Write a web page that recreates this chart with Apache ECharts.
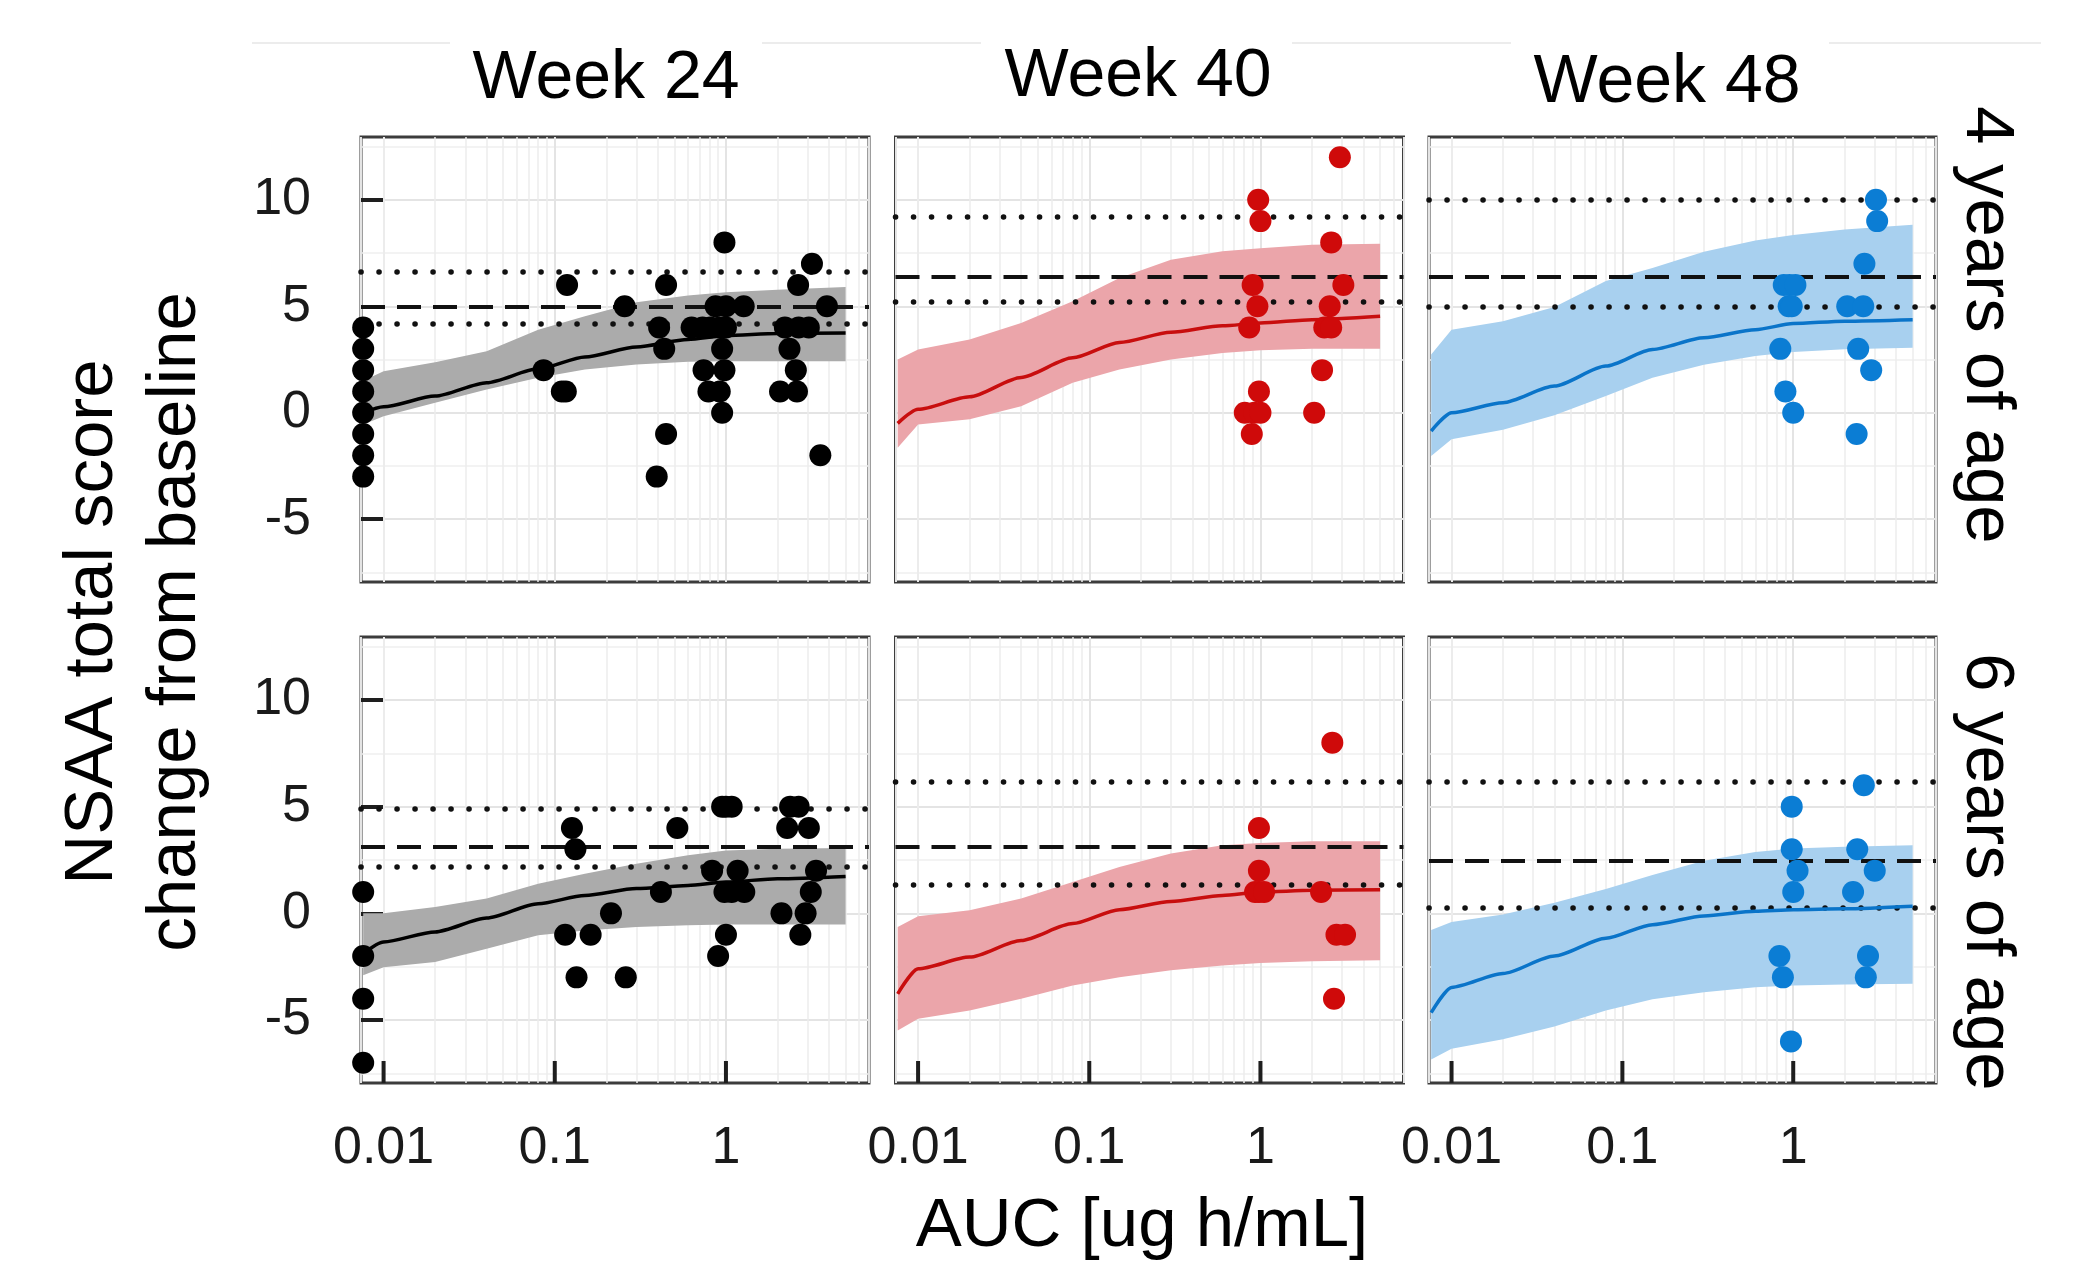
<!DOCTYPE html>
<html>
<head>
<meta charset="utf-8">
<title>NSAA total score change vs AUC</title>
<script src="https://cdn.jsdelivr.net/npm/echarts@6/dist/echarts.min.js"></script>
<style>
  html, body { margin: 0; padding: 0; background: #fff; }
  #chart { width: 2078px; height: 1261px; }
</style>
</head>
<body>
<div id="chart"></div>
<script>
// facet labels and ticks
var weekLabels = ['Week 24', 'Week 40', 'Week 48'];
var ageLabels = ['4 years of age', '6 years of age'];
var xTickValues = [0.01, 0.1, 1];
var xTickLabels = ['0.01', '0.1', '1'];
var yTickValues = [-5, 0, 5, 10];
// light log grid lines (2..9 of each decade)
var xMinorGrid = [0.008, 0.009, 0.02, 0.03, 0.04, 0.05, 0.06, 0.07, 0.08, 0.09,
  0.2, 0.3, 0.4, 0.5, 0.6, 0.7, 0.8, 0.9, 2, 3, 4, 5, 6];
var xMin = 0.00738, xMax = 6.85;
var yMin = -7.95, yMax = 12.95;

// model curve (median + interval), AUC values
var curveAuc = [0.0076, 0.01, 0.02, 0.04, 0.08, 0.15, 0.3, 0.6, 1, 2, 5];

// Week 24, 4 years
var med24a = [0.0, 0.28, 0.78, 1.41, 2.06, 2.62, 3.09, 3.44, 3.62, 3.72, 3.75];
var hi24a = [1.5, 1.95, 2.37, 2.89, 3.9, 4.53, 5.19, 5.5, 5.66, 5.78, 5.9];
var lo24a = [-0.55, -0.16, 0.47, 1.09, 1.64, 2.03, 2.27, 2.39, 2.42, 2.42, 2.42];
var ref24a = [6.6, 5.0, 4.2];
var obs24a = [[0.0076, 4], [0.0076, 3], [0.0076, 2], [0.0076, 1], [0.0076, 0], [0.0076, -1], [0.0076, -2], [0.0076, -3],
  [0.086, 2], [0.118, 6], [0.11, 1], [0.116, 1], [0.256, 5], [0.447, 6], [0.407, 4], [0.436, 3], [0.447, -1], [0.394, -3],
  [0.98, 8], [0.87, 5], [1.0, 5], [1.27, 5], [0.63, 4], [0.73, 4], [0.81, 4], [0.92, 4], [1.0, 4], [0.95, 3],
  [0.74, 2], [0.98, 2], [0.79, 1], [0.92, 1], [0.95, 0],
  [3.18, 7], [2.64, 6], [3.89, 5], [2.21, 4], [2.66, 4], [3.05, 4], [2.35, 3], [2.56, 2], [2.07, 1], [2.6, 1], [3.56, -2]];

// Week 40, 4 years
var med40a = [-0.5, 0.16, 0.75, 1.66, 2.58, 3.3, 3.78, 4.08, 4.22, 4.37, 4.53];
var hi40a = [2.5, 2.97, 3.44, 4.22, 5.23, 6.33, 7.19, 7.58, 7.73, 7.89, 7.94];
var lo40a = [-1.64, -0.55, -0.31, 0.31, 1.41, 2.03, 2.5, 2.81, 2.94, 3.0, 3.0];
var ref40a = [9.2, 6.37, 5.2];
var obs40a = [[2.91, 12], [0.97, 10], [1.0, 9], [2.59, 8], [0.9, 6], [3.05, 6], [0.96, 5], [2.54, 5],
  [0.86, 4], [2.36, 4], [2.59, 4], [2.29, 2], [0.98, 1], [0.81, 0], [0.92, 0], [1.0, 0], [2.06, 0], [0.89, -1]];

// Week 48, 4 years
var med48a = [-0.86, 0.0, 0.47, 1.25, 2.19, 2.97, 3.52, 3.9, 4.19, 4.3, 4.37];
var hi48a = [2.73, 3.9, 4.3, 4.97, 6.19, 6.8, 7.56, 8.09, 8.35, 8.6, 8.83];
var lo48a = [-2.03, -1.25, -0.8, -0.12, 0.79, 1.64, 2.25, 2.67, 2.85, 2.98, 3.05];
var ref48a = [10.0, 6.37, 5.0];
var obs48a = [[3.05, 10], [3.1, 9], [2.61, 7], [0.88, 6], [0.95, 6], [1.03, 6], [0.94, 5], [0.98, 5],
  [2.07, 5], [2.57, 5], [0.84, 3], [2.4, 3], [2.86, 2], [0.9, 1], [1.0, 0], [2.35, -1]];

// Week 24, 6 years
var med24b = [-1.89, -1.34, -0.87, -0.22, 0.45, 0.84, 1.16, 1.31, 1.47, 1.62, 1.73];
var hi24b = [0.0, 0.0, 0.3, 0.69, 1.39, 1.86, 2.33, 2.72, 2.95, 3.03, 3.06];
var lo24b = [-2.9, -2.52, -2.28, -1.66, -1.03, -0.8, -0.64, -0.56, -0.52, -0.52, -0.52];
var ref24b = [4.92, 3.14, 2.17];
var obs24b = [[0.0076, 1], [0.0076, -2], [0.0076, -4], [0.0076, -7],
  [0.126, 4], [0.132, 3], [0.115, -1], [0.162, -1], [0.134, -3], [0.26, -3], [0.213, 0], [0.417, 1], [0.52, 4],
  [0.95, 5], [1.0, 5], [1.08, 5], [0.83, 2], [1.17, 2], [0.98, 1], [1.08, 1], [1.28, 1], [1.0, -1], [0.9, -2],
  [2.37, 5], [2.66, 5], [2.28, 4], [3.05, 4], [3.36, 2], [3.13, 1], [2.11, 0], [2.92, 0], [2.72, -1]];

// Week 40, 6 years
var med40b = [-3.77, -2.6, -2.05, -1.27, -0.48, 0.17, 0.56, 0.84, 1.0, 1.08, 1.11];
var hi40b = [-0.64, -0.14, 0.14, 0.69, 1.47, 2.17, 2.8, 3.19, 3.3, 3.38, 3.38];
var lo40b = [-5.49, -4.94, -4.55, -4.0, -3.38, -2.99, -2.67, -2.44, -2.33, -2.24, -2.2];
var ref40b = [6.16, 3.14, 1.34];
var obs40b = [[2.63, 8], [0.98, 4], [0.98, 2], [0.93, 1], [0.98, 1], [1.05, 1], [2.26, 1],
  [2.78, -1], [3.12, -1], [2.69, -4]];

// Week 48, 6 years
var med48b = [-4.65, -3.47, -2.82, -2.0, -1.17, -0.53, -0.12, 0.1, 0.17, 0.21, 0.33];
var hi48b = [-0.78, -0.41, -0.05, 0.5, 1.14, 1.8, 2.46, 2.87, 3.04, 3.12, 3.19];
var lo48b = [-6.85, -6.34, -5.9, -5.3, -4.55, -4.03, -3.7, -3.46, -3.38, -3.34, -3.3];
var ref48b = [6.16, 2.48, 0.25];
var obs48b = [[2.59, 6], [0.98, 5], [0.98, 3], [2.37, 3], [1.06, 2], [3.0, 2], [1.0, 1], [2.24, 1],
  [0.83, -2], [2.74, -2], [0.87, -3], [2.66, -3], [0.97, -6]];

var panels = [
  { row: 0, col: 0, obs: obs24a, med: med24a, lo: lo24a, hi: hi24a, ref: ref24a },
  { row: 0, col: 1, obs: obs40a, med: med40a, lo: lo40a, hi: hi40a, ref: ref40a },
  { row: 0, col: 2, obs: obs48a, med: med48a, lo: lo48a, hi: hi48a, ref: ref48a },
  { row: 1, col: 0, obs: obs24b, med: med24b, lo: lo24b, hi: hi24b, ref: ref24b },
  { row: 1, col: 1, obs: obs40b, med: med40b, lo: lo40b, hi: hi40b, ref: ref40b },
  { row: 1, col: 2, obs: obs48b, med: med48b, lo: lo48b, hi: hi48b, ref: ref48b }
];

var pointColors = ['#000000', '#cf0a0a', '#0b7dd4'];
var bandColors = ['#ababab', '#eba5aa', '#a8d0ef'];
var lineColors = ['#000000', '#c80e0e', '#0a74c9'];

var FONT = '"Liberation Sans", Arial, Helvetica, sans-serif';
var gridLeft = [361, 895.5, 1429];
var gridWidth = [508, 508, 507];
var gridTop = [137, 637];
var gridHeight = [445, 446];

var chart = echarts.init(document.getElementById('chart'));

var grids = [], xAxes = [], yAxes = [], series = [];

panels.forEach(function (p, i) {
  grids.push({
    left: gridLeft[p.col], top: gridTop[p.row],
    width: gridWidth[p.col], height: gridHeight[p.row],
    show: true, backgroundColor: '#ffffff',
    borderColor: '#3c3c3c', borderWidth: 3
  });

  xAxes.push({
    type: 'log', logBase: 10, gridIndex: i, min: xMin, max: xMax, position: 'bottom',
    axisLine: { show: false, onZero: false },
    axisTick: { show: false },
    axisLabel: {
      show: p.row === 1, margin: 40, fontSize: 52, fontFamily: FONT, color: '#1a1a1a',
      formatter: function (v) {
        for (var k = 0; k < xTickValues.length; k++) {
          if (Math.abs(v - xTickValues[k]) / xTickValues[k] < 1e-6) return xTickLabels[k];
        }
        return '';
      }
    },
    splitLine: { show: true, lineStyle: { color: '#e4e4e4', width: 2 } }
  });

  yAxes.push({
    type: 'value', gridIndex: i, min: yMin, max: yMax, minInterval: 5, maxInterval: 5, position: 'left',
    axisLine: { show: false, onZero: false },
    axisTick: { show: p.col === 0, inside: true, length: 22, customValues: yTickValues,
      lineStyle: { color: '#1e1e1e', width: 4 } },
    axisLabel: {
      show: p.col === 0, margin: 50, fontSize: 52, fontFamily: FONT, color: '#1a1a1a',
      customValues: yTickValues,
      formatter: function (v) { return yTickValues.indexOf(v) >= 0 ? String(v) : ''; }
    },
    splitLine: { show: true, lineStyle: { color: '#e4e4e4', width: 2 } },
    minorTick: { show: false, splitNumber: 2 },
    minorSplitLine: { show: true, lineStyle: { color: '#efefef', width: 1.5 } }
  });

  // minor vertical grid lines, kept under the band
  series.push({
    type: 'line', xAxisIndex: i, yAxisIndex: i, data: [], z: 1, silent: true,
    markLine: {
      z: 1, silent: true, symbol: ['none', 'none'], label: { show: false }, animation: false,
      lineStyle: { color: '#ececec', width: 1.5, type: 'solid' },
      emphasis: { disabled: true },
      data: xMinorGrid.map(function (v) { return { xAxis: v }; })
    }
  });

  // prediction band
  series.push({
    type: 'custom', xAxisIndex: i, yAxisIndex: i, z: 2, silent: true, clip: true,
    data: [[curveAuc[0], p.lo[0]]],
    renderItem: function (params, api) {
      var pts = [];
      for (var k = 0; k < curveAuc.length; k++) pts.push(api.coord([curveAuc[k], p.hi[k]]));
      for (var m = curveAuc.length - 1; m >= 0; m--) pts.push(api.coord([curveAuc[m], p.lo[m]]));
      return { type: 'polygon', shape: { points: pts }, style: { fill: bandColors[p.col] } };
    }
  });

  // observed mean (dashed) and its interval (dotted)
  var dotted = { type: [0.1, 17.9], cap: 'round', width: 5.5, color: '#111111' };
  var dashed = { type: [24, 12], width: 4, color: '#111111' };
  series.push({
    type: 'line', xAxisIndex: i, yAxisIndex: i, data: [], z: 3, silent: true,
    markLine: {
      z: 3, silent: true, symbol: ['none', 'none'], label: { show: false }, animation: false,
      emphasis: { disabled: true },
      data: [
        { yAxis: p.ref[0], lineStyle: dotted },
        { yAxis: p.ref[1], lineStyle: dashed },
        { yAxis: p.ref[2], lineStyle: dotted }
      ]
    }
  });

  // inner x ticks on the bottom row
  if (p.row === 1) {
    series.push({
      type: 'custom', xAxisIndex: i, yAxisIndex: i, z: 6, silent: true, clip: false,
      data: xTickValues.map(function (v) { return [v, yMin]; }),
      renderItem: function (params, api) {
        var pt = api.coord([api.value(0), api.value(1)]);
        return {
          type: 'rect',
          shape: { x: pt[0] - 2, y: pt[1] - 22, width: 4, height: 22 },
          style: { fill: '#1e1e1e' }
        };
      }
    });
  }

  // model median
  series.push({
    type: 'line', xAxisIndex: i, yAxisIndex: i, z: 4, silent: true,
    showSymbol: false, smooth: 0.25, smoothMonotone: 'x',
    lineStyle: { color: lineColors[p.col], width: 3.5 },
    data: curveAuc.map(function (x, k) { return [x, p.med[k]]; })
  });

  // observed points
  series.push({
    type: 'scatter', xAxisIndex: i, yAxisIndex: i, z: 5, silent: true,
    symbolSize: 22, itemStyle: { color: pointColors[p.col], opacity: 1 },
    data: p.obs
  });
});

var graphics = [];
var titlePos = [[606, 79], [1138, 77], [1667, 83]];
weekLabels.forEach(function (t, c) {
  graphics.push({
    type: 'text', x: titlePos[c][0], y: titlePos[c][1],
    style: { text: t, fontSize: 68, fontFamily: FONT, fill: '#000', align: 'center', verticalAlign: 'middle' }
  });
});
var stripY = [325, 872];
ageLabels.forEach(function (t, r) {
  graphics.push({
    type: 'text', x: 1986, y: stripY[r], rotation: -Math.PI / 2,
    style: { text: t, fontSize: 69, fontFamily: FONT, fill: '#000', align: 'center', verticalAlign: 'middle' }
  });
});
graphics.push({
  type: 'text', x: 134, y: 622, rotation: Math.PI / 2,
  style: { text: 'NSAA total score\nchange from baseline', fontSize: 69, lineHeight: 83,
    fontFamily: FONT, fill: '#000', align: 'center', verticalAlign: 'middle' }
});
graphics.push({
  type: 'text', x: 1142, y: 1227,
  style: { text: 'AUC [ug h/mL]', fontSize: 69, fontFamily: FONT, fill: '#000', align: 'center', verticalAlign: 'middle' }
});
// faint strip boundary at the top
[[252, 450], [762, 981], [1292, 1511], [1829, 2041]].forEach(function (s) {
  graphics.push({
    type: 'line', shape: { x1: s[0], y1: 43, x2: s[1], y2: 43 },
    style: { stroke: '#ececec', lineWidth: 2 }, silent: true
  });
});

chart.setOption({
  backgroundColor: '#ffffff',
  animation: false,
  grid: grids,
  xAxis: xAxes,
  yAxis: yAxes,
  series: series,
  graphic: graphics
});
</script>
</body>
</html>
